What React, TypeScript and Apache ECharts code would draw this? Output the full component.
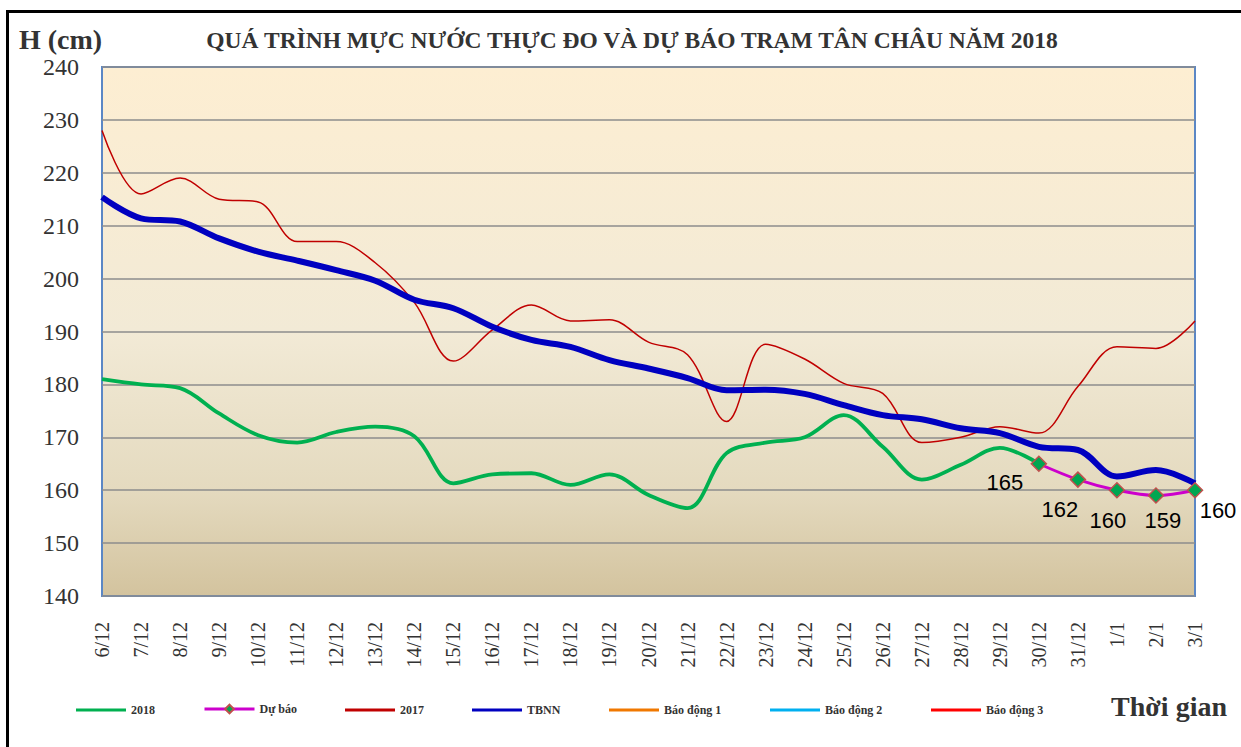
import React, { useEffect, useRef } from 'react';
import * as echarts from 'echarts';

const CATEGORIES = [
  '6/12', '7/12', '8/12', '9/12', '10/12', '11/12', '12/12', '13/12', '14/12', '15/12',
  '16/12', '17/12', '18/12', '19/12', '20/12', '21/12', '22/12', '23/12', '24/12', '25/12',
  '26/12', '27/12', '28/12', '29/12', '30/12', '31/12', '1/1', '2/1', '3/1',
];

const Y2018 = [
  181, 180, 179.3, 174.5, 170.4, 169, 171, 172, 170.2, 161.3,
  163, 163.2, 161, 163, 159.1, 156.6, 167, 169, 170, 174.2,
  168.2, 162, 164.8, 168, 165, null, null, null, null,
];

const FORECAST = [
  null, null, null, null, null, null, null, null, null, null,
  null, null, null, null, null, null, null, null, null, null,
  null, null, null, null, 165, 162, 160, 159, 160,
];

const Y2017 = [
  228, 216, 219, 215, 214.5, 207, 207, 203, 195.5, 184.4,
  190.3, 195, 192, 192.2, 188, 185.6, 173, 187.6, 184.8, 180.2,
  178.3, 169, 170, 172, 170.8, 179.6, 187.1, 186.8, 192,
];

const TBNN = [
  215.4, 211.4, 210.8, 207.6, 205.1, 203.4, 201.6, 199.6, 196, 194.4,
  190.9, 188.4, 187.1, 184.6, 183, 181.2, 178.9, 179, 178.2, 176.1,
  174.2, 173.4, 171.7, 170.8, 168.2, 167.6, 162.6, 163.8, 161.3,
];

// Alarm levels at Tân Châu (cm) – above the visible range
const ALARM_1 = 350;
const ALARM_2 = 400;
const ALARM_3 = 450;

const Y_TICKS = [140, 150, 160, 170, 180, 190, 200, 210, 220, 230, 240];

// label offsets for forecast values (visual placement only)
const FC_LABEL_OFFSETS: Record<number, [number, number]> = {
  24: [-34, 19],
  25: [-18, 30],
  26: [-9, 30],
  27: [7, 25],
  28: [23, 20],
};

const SERIF = "'Liberation Serif', 'Times New Roman', serif";
const SANS = "'Liberation Sans', Arial, sans-serif";

export default function App() {
  const ref = useRef<HTMLDivElement>(null);

  useEffect(() => {
    if (!ref.current) return;
    const chart = echarts.init(ref.current, null, { renderer: 'svg' });

    const forecastData = FORECAST.map((v, i) => {
      if (v == null) return null;
      const off = FC_LABEL_OFFSETS[i] || [0, 20];
      return {
        value: v,
        label: {
          show: true,
          position: 'inside',
          offset: off,
          formatter: String(v),
          fontSize: 22,
          fontFamily: SANS,
          color: '#000',
        },
      };
    });

    const legendDefs = [
      { name: '2018', left: 76, marker: false },
      { name: 'Dự báo', left: 203, marker: true },
      { name: '2017', left: 345, marker: false },
      { name: 'TBNN', left: 472, marker: false },
      { name: 'Báo động 1', left: 609, marker: false },
      { name: 'Báo động 2', left: 770, marker: false },
      { name: 'Báo động 3', left: 931, marker: false },
    ];

    const legendText = { fontFamily: SERIF, fontWeight: 'bold', fontSize: 12, color: '#333' };

    const option: any = {
      animation: false,
      backgroundColor: '#ffffff',
      grid: {
        left: 102,
        right: 46,
        top: 67,
        bottom: 151,
        show: true,
        borderColor: '#5b87c5',
        borderWidth: 2,
        backgroundColor: {
          type: 'linear',
          x: 0, y: 0, x2: 0, y2: 1,
          colorStops: [
            { offset: 0, color: '#fdeed2' },
            { offset: 0.5, color: '#f2ead6' },
            { offset: 0.8, color: '#e4dabf' },
            { offset: 1, color: '#d3c39e' },
          ],
        },
      },
      legend: legendDefs.map((d) =>
        d.marker
          ? {
              data: [d.name],
              left: d.left,
              top: 703,
              padding: 0,
              itemWidth: 50,
              itemHeight: 11,
              lineStyle: { width: 3 },
              textStyle: legendText,
              selectedMode: false,
            }
          : {
              data: [{ name: d.name, icon: 'rect' }],
              left: d.left,
              top: 704,
              padding: 0,
              itemWidth: 50,
              itemHeight: 3,
              textStyle: legendText,
              selectedMode: false,
            }
      ),
      xAxis: {
        type: 'category',
        data: CATEGORIES,
        boundaryGap: false,
        axisLine: { show: false },
        axisTick: { show: false },
        splitLine: { show: false },
        axisLabel: {
          interval: 0,
          rotate: 90,
          margin: 26,
          fontSize: 20,
          fontFamily: SERIF,
          color: '#333',
        },
      },
      yAxis: {
        type: 'value',
        min: Y_TICKS[0],
        max: Y_TICKS[Y_TICKS.length - 1],
        interval: 10,
        axisLine: { show: false },
        axisTick: { show: false },
        splitLine: { show: true, lineStyle: { color: '#8c8c8c', width: 1.5 } },
        axisLabel: {
          margin: 23,
          fontSize: 24,
          fontFamily: SERIF,
          color: '#333',
        },
      },
      series: [
        {
          name: '2018',
          type: 'line',
          data: Y2018,
          smooth: 0.35,
          symbol: 'none',
          connectNulls: false,
          lineStyle: { color: '#00b050', width: 3.8 },
          itemStyle: { color: '#00b050' },
          z: 2,
        },
        {
          name: '2017',
          type: 'line',
          data: Y2017,
          smooth: 0.35,
          symbol: 'none',
          lineStyle: { color: '#c00000', width: 1.5 },
          itemStyle: { color: '#c00000' },
          z: 3,
        },
        {
          name: 'TBNN',
          type: 'line',
          data: TBNN,
          smooth: 0.35,
          symbol: 'none',
          lineStyle: { color: '#0000c0', width: 6 },
          itemStyle: { color: '#0000c0' },
          z: 4,
        },
        {
          name: 'Dự báo',
          type: 'line',
          data: forecastData,
          smooth: 0.35,
          symbol: 'diamond',
          symbolSize: 15,
          showAllSymbol: true,
          lineStyle: { color: '#cc00cc', width: 3 },
          itemStyle: { color: '#00a651', borderColor: '#c0504d', borderWidth: 1.5 },
          z: 5,
        },
        {
          name: 'Báo động 1',
          type: 'line',
          data: CATEGORIES.map(() => ALARM_1),
          symbol: 'none',
          clip: true,
          lineStyle: { color: '#f07800', width: 2 },
          itemStyle: { color: '#f07800' },
        },
        {
          name: 'Báo động 2',
          type: 'line',
          data: CATEGORIES.map(() => ALARM_2),
          symbol: 'none',
          clip: true,
          lineStyle: { color: '#00b0f0', width: 2 },
          itemStyle: { color: '#00b0f0' },
        },
        {
          name: 'Báo động 3',
          type: 'line',
          data: CATEGORIES.map(() => ALARM_3),
          symbol: 'none',
          clip: true,
          lineStyle: { color: '#ff0000', width: 2 },
          itemStyle: { color: '#ff0000' },
        },
      ],
      graphic: [
        {
          type: 'rect',
          left: 5,
          top: 9,
          shape: { x: 0, y: 0, width: 1400, height: 900 },
          style: { fill: 'none', stroke: '#000', lineWidth: 3 },
          silent: true,
          z: 100,
        },
        {
          type: 'text',
          x: 632,
          y: 40,
          style: {
            text: 'QUÁ TRÌNH MỰC NƯỚC THỰC ĐO VÀ DỰ BÁO TRẠM TÂN CHÂU NĂM 2018',
            font: `bold 23.5px ${SERIF}`,
            fill: '#333',
            align: 'center',
            verticalAlign: 'middle',
          },
        },
        {
          type: 'text',
          x: 19,
          y: 39,
          style: {
            text: 'H (cm)',
            font: `bold 28px ${SERIF}`,
            fill: '#333',
            align: 'left',
            verticalAlign: 'middle',
          },
        },
        {
          type: 'text',
          x: 1227,
          y: 706,
          style: {
            text: 'Thời gian',
            font: `bold 28px ${SERIF}`,
            fill: '#333',
            align: 'right',
            verticalAlign: 'middle',
          },
        },
      ],
    };

    chart.setOption(option);
    return () => chart.dispose();
  }, []);

  return (
    <div
      ref={ref}
      style={{ position: 'fixed', left: 0, top: 0, width: 1241, height: 747, background: '#fff' }}
    />
  );
}
